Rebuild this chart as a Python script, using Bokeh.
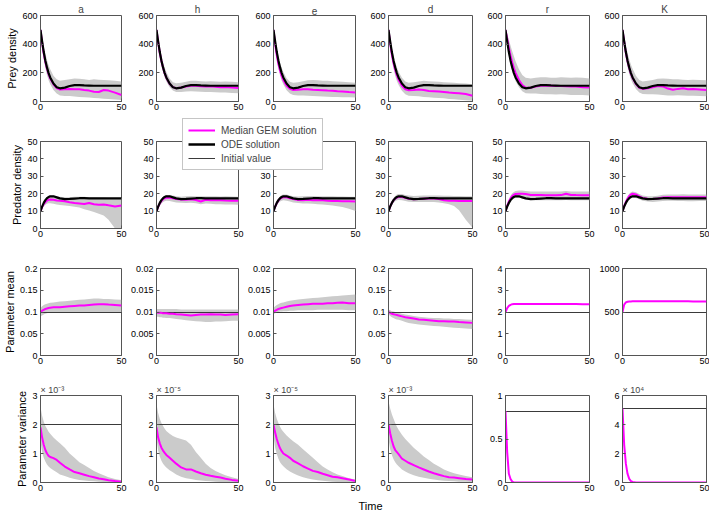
from bokeh.plotting import figure
from bokeh.models import (Range1d, FixedTicker, CustomJSTickFormatter, GridBox,
                          Legend, LegendItem, Label)
from bokeh.embed import file_html
from bokeh.resources import INLINE

# ---------------- data ----------------
T = [0, 1, 2, 3, 4, 5, 6, 8, 10, 12, 15, 18, 21, 24, 27, 30, 33, 36, 39, 42, 46, 50]
PARAMS = ["a", "h", "e", "d", "r", "K"]
ROW_LABELS = ["Prey density", "Predator density", "Parameter mean", "Parameter variance"]
LEGEND_LABELS = ["Median GEM solution", "ODE solution", "Initial value"]
X_LABEL = "Time"
X_TICKS = [0, 50]

ODE_PREY = [500, 420, 345, 285, 238, 198, 168, 125, 100, 92, 97, 108, 114, 114, 112, 111, 110, 110, 110, 110, 110, 110]
ODE_PRED = [10.0, 12.6, 14.7, 16.3, 17.4, 18.1, 18.5, 18.5, 17.9, 17.3, 16.9, 17.0, 17.2, 17.4, 17.4, 17.3, 17.3, 17.3, 17.3, 17.3, 17.3, 17.3]

PREY_MED_a = [500, 410, 335, 275, 228, 190, 160, 120, 93, 83, 85, 88, 86, 85, 80, 76, 68, 66, 80, 76, 62, 45]
PREY_LO_a = [500, 375, 295, 235, 185, 148, 120, 80, 55, 42, 38, 38, 35, 32, 30, 28, 25, 22, 20, 18, 14, 10]
PREY_HI_a = [500, 445, 385, 335, 290, 255, 225, 180, 155, 145, 150, 155, 160, 158, 155, 150, 155, 152, 150, 148, 145, 140]
PREY_MED_h = [500, 415, 340, 282, 235, 196, 166, 124, 100, 93, 97, 105, 110, 110, 106, 105, 106, 103, 100, 102, 98, 95]
PREY_LO_h = [500, 390, 310, 252, 205, 168, 140, 100, 76, 66, 66, 70, 72, 70, 68, 66, 66, 64, 62, 62, 60, 58]
PREY_HI_h = [500, 440, 375, 320, 275, 235, 205, 160, 135, 128, 130, 138, 145, 145, 142, 140, 142, 140, 138, 140, 138, 135]
PREY_MED_e = [500, 400, 322, 262, 215, 178, 150, 110, 88, 80, 82, 85, 86, 82, 80, 78, 76, 75, 72, 70, 66, 63]
PREY_LO_e = [500, 370, 290, 230, 182, 145, 118, 78, 55, 45, 42, 42, 40, 38, 36, 35, 34, 32, 32, 30, 30, 28]
PREY_HI_e = [500, 435, 370, 318, 272, 235, 205, 162, 138, 130, 135, 142, 148, 150, 148, 145, 145, 142, 140, 138, 135, 130]
PREY_MED_d = [500, 405, 328, 268, 220, 182, 152, 110, 85, 78, 80, 84, 80, 74, 72, 70, 66, 62, 60, 58, 52, 40]
PREY_LO_d = [500, 370, 290, 230, 180, 142, 115, 75, 50, 40, 38, 36, 32, 30, 27, 25, 22, 18, 15, 12, 8, 5]
PREY_HI_d = [500, 440, 375, 322, 275, 238, 208, 165, 140, 130, 135, 140, 145, 142, 140, 138, 135, 132, 130, 128, 125, 120]
PREY_MED_r = [500, 440, 375, 320, 272, 232, 200, 150, 115, 98, 96, 104, 110, 112, 110, 108, 108, 106, 105, 104, 100, 98]
PREY_LO_r = [500, 400, 320, 258, 210, 172, 142, 100, 72, 58, 55, 55, 52, 50, 50, 48, 50, 48, 46, 45, 45, 42]
PREY_HI_r = [500, 470, 430, 390, 350, 315, 280, 225, 185, 165, 160, 165, 170, 170, 165, 165, 170, 168, 165, 168, 165, 160]
PREY_MED_K = [500, 415, 340, 280, 232, 194, 164, 122, 96, 88, 92, 100, 108, 105, 90, 82, 88, 92, 85, 88, 84, 80]
PREY_LO_K = [500, 380, 300, 240, 192, 155, 128, 88, 62, 52, 50, 50, 48, 45, 42, 42, 44, 42, 40, 40, 38, 36]
PREY_HI_K = [500, 450, 390, 340, 295, 258, 228, 180, 150, 140, 145, 150, 158, 160, 158, 155, 155, 152, 150, 152, 150, 148]

PRED_MED_a = [10.0, 12.3, 14.0, 15.2, 16.0, 16.5, 16.7, 16.5, 16.1, 15.9, 15.7, 15.1, 14.6, 14.4, 14.1, 14.7, 13.9, 13.6, 13.8, 13.3, 12.7, 13.2]
PRED_LO_a = [9.5, 11.2, 12.6, 13.6, 14.2, 14.5, 14.5, 14.2, 13.8, 13.5, 13.2, 13.0, 12.5, 12.0, 11.0, 10.3, 9.5, 8.5, 7.5, 5.0, 0.0, 0.0]
PRED_HI_a = [10.5, 13.5, 15.5, 17.0, 18.2, 18.8, 19.0, 19.0, 18.6, 18.3, 18.0, 18.0, 18.2, 18.3, 18.2, 18.0, 18.0, 17.8, 17.8, 17.6, 17.5, 17.5]
PRED_MED_h = [10.0, 12.4, 14.4, 15.8, 16.8, 17.4, 17.7, 17.8, 17.4, 17.0, 16.6, 16.5, 16.8, 16.4, 15.5, 16.5, 16.3, 16.2, 16.2, 16.1, 16.0, 16.0]
PRED_LO_h = [9.5, 11.3, 13.0, 14.3, 15.2, 15.7, 16.0, 15.8, 15.4, 15.0, 14.8, 14.7, 14.8, 14.5, 14.0, 14.3, 14.2, 14.0, 14.0, 13.8, 13.8, 13.6]
PRED_HI_h = [10.5, 13.5, 15.6, 17.2, 18.3, 19.0, 19.3, 19.3, 18.9, 18.5, 18.3, 18.5, 18.7, 18.6, 18.5, 18.5, 18.6, 18.5, 18.4, 18.5, 18.4, 18.3]
PRED_MED_e = [10.0, 12.5, 14.6, 16.1, 17.1, 17.7, 18.0, 18.0, 17.4, 16.9, 16.4, 16.2, 16.5, 16.3, 16.2, 16.2, 16.0, 15.8, 15.8, 15.7, 15.6, 15.5]
PRED_LO_e = [9.5, 11.4, 13.2, 14.6, 15.5, 16.0, 16.2, 16.0, 15.5, 15.0, 14.6, 14.4, 14.3, 14.2, 14.0, 13.8, 13.5, 13.2, 12.8, 12.3, 11.3, 10.0]
PRED_HI_e = [10.5, 13.6, 15.8, 17.4, 18.6, 19.3, 19.6, 19.5, 19.0, 18.6, 18.4, 18.5, 18.7, 18.7, 18.6, 18.6, 18.5, 18.5, 18.4, 18.4, 18.3, 18.2]
PRED_MED_d = [10.0, 12.6, 14.7, 16.2, 17.2, 17.8, 18.1, 18.1, 17.6, 17.1, 16.8, 16.9, 17.1, 17.2, 17.2, 17.0, 16.2, 16.0, 16.0, 15.8, 15.8, 15.8]
PRED_LO_d = [9.5, 11.5, 13.3, 14.8, 15.7, 16.2, 16.4, 16.2, 15.8, 15.4, 15.2, 15.2, 15.3, 15.3, 15.2, 15.0, 14.5, 14.0, 13.0, 10.5, 5.0, 0.5]
PRED_HI_d = [10.5, 13.6, 15.8, 17.5, 18.7, 19.5, 19.8, 19.8, 19.3, 18.9, 18.7, 18.8, 19.0, 19.0, 19.0, 18.9, 18.8, 18.8, 18.7, 18.7, 18.6, 18.5]
PRED_MED_r = [10.0, 13.0, 15.5, 17.3, 18.6, 19.4, 19.8, 20.0, 20.0, 19.8, 19.3, 19.2, 19.2, 19.1, 19.1, 19.1, 19.2, 20.0, 19.3, 19.2, 19.1, 19.1]
PRED_LO_r = [9.5, 12.0, 14.2, 15.8, 16.9, 17.5, 17.8, 17.8, 17.2, 16.7, 16.4, 16.3, 16.3, 16.3, 16.3, 16.3, 16.3, 16.4, 16.3, 16.3, 16.2, 16.2]
PRED_HI_r = [10.5, 14.0, 16.8, 18.8, 20.2, 21.0, 21.5, 21.8, 21.8, 21.6, 21.3, 21.2, 21.3, 21.3, 21.2, 21.3, 21.3, 21.5, 21.3, 21.3, 21.3, 21.3]
PRED_MED_K = [10.0, 12.8, 15.2, 17.2, 18.7, 19.6, 20.0, 19.6, 18.5, 17.6, 17.1, 17.0, 17.2, 17.8, 17.9, 17.9, 17.9, 17.9, 17.9, 17.9, 17.9, 17.9]
PRED_LO_K = [9.5, 11.8, 14.0, 15.8, 16.9, 17.5, 17.8, 17.5, 16.8, 16.0, 15.5, 15.3, 15.5, 15.8, 16.0, 16.0, 15.8, 15.8, 15.6, 15.7, 15.8, 15.8]
PRED_HI_K = [10.5, 13.8, 16.5, 18.6, 20.0, 20.8, 21.2, 20.8, 19.8, 19.0, 18.6, 18.6, 18.8, 19.4, 19.6, 19.6, 19.6, 19.7, 19.6, 19.5, 19.6, 19.5]

MEAN_INIT = [0.1, 0.01, 0.01, 0.1, 2, 500]
MEAN_MED_a = [0.100, 0.103, 0.105, 0.107, 0.108, 0.109, 0.110, 0.111, 0.111, 0.111, 0.112, 0.113, 0.114, 0.115, 0.115, 0.116, 0.117, 0.118, 0.118, 0.117, 0.116, 0.115]
MEAN_LO_a = [0.090, 0.092, 0.094, 0.096, 0.097, 0.098, 0.099, 0.099, 0.100, 0.100, 0.100, 0.100, 0.100, 0.100, 0.100, 0.100, 0.100, 0.100, 0.100, 0.100, 0.100, 0.100]
MEAN_HI_a = [0.110, 0.113, 0.116, 0.118, 0.119, 0.120, 0.121, 0.122, 0.123, 0.124, 0.125, 0.126, 0.127, 0.128, 0.129, 0.130, 0.131, 0.131, 0.130, 0.130, 0.129, 0.128]
MEAN_MED_h = [0.0098, 0.0098, 0.0098, 0.0098, 0.0097, 0.0097, 0.0097, 0.0096, 0.0096, 0.0095, 0.0094, 0.0093, 0.0092, 0.0093, 0.0094, 0.0094, 0.0095, 0.0094, 0.0094, 0.0093, 0.0094, 0.0095]
MEAN_LO_h = [0.0089, 0.0089, 0.0088, 0.0088, 0.0087, 0.0087, 0.0086, 0.0086, 0.0085, 0.0084, 0.0083, 0.0081, 0.0080, 0.0079, 0.0078, 0.0077, 0.0077, 0.0078, 0.0078, 0.0079, 0.0080, 0.0080]
MEAN_HI_h = [0.0107, 0.0107, 0.0107, 0.0107, 0.0107, 0.0107, 0.0107, 0.0107, 0.0107, 0.0107, 0.0106, 0.0106, 0.0106, 0.0106, 0.0106, 0.0106, 0.0106, 0.0106, 0.0106, 0.0106, 0.0106, 0.0106]
MEAN_MED_e = [0.0100, 0.0103, 0.0105, 0.0107, 0.0108, 0.0109, 0.0110, 0.0112, 0.0114, 0.0115, 0.0116, 0.0117, 0.0118, 0.0119, 0.0119, 0.0119, 0.0120, 0.0120, 0.0121, 0.0122, 0.0120, 0.0120]
MEAN_LO_e = [0.0095, 0.0097, 0.0099, 0.0100, 0.0101, 0.0101, 0.0102, 0.0102, 0.0103, 0.0103, 0.0104, 0.0104, 0.0104, 0.0104, 0.0105, 0.0105, 0.0105, 0.0105, 0.0105, 0.0105, 0.0104, 0.0104]
MEAN_HI_e = [0.0110, 0.0113, 0.0116, 0.0118, 0.0120, 0.0121, 0.0122, 0.0124, 0.0126, 0.0127, 0.0129, 0.0130, 0.0131, 0.0132, 0.0133, 0.0134, 0.0135, 0.0136, 0.0137, 0.0138, 0.0139, 0.0140]
MEAN_MED_d = [0.100, 0.098, 0.096, 0.095, 0.094, 0.093, 0.092, 0.090, 0.088, 0.087, 0.085, 0.083, 0.082, 0.081, 0.080, 0.079, 0.079, 0.078, 0.078, 0.077, 0.076, 0.075]
MEAN_LO_d = [0.094, 0.091, 0.088, 0.086, 0.084, 0.083, 0.082, 0.080, 0.077, 0.075, 0.073, 0.071, 0.070, 0.069, 0.068, 0.067, 0.066, 0.065, 0.064, 0.063, 0.062, 0.061]
MEAN_HI_d = [0.106, 0.104, 0.102, 0.101, 0.100, 0.099, 0.098, 0.096, 0.094, 0.093, 0.091, 0.089, 0.088, 0.087, 0.086, 0.086, 0.085, 0.085, 0.084, 0.084, 0.083, 0.082]
MEAN_MED_r = [2.00, 2.18, 2.28, 2.33, 2.36, 2.37, 2.37, 2.37, 2.37, 2.37, 2.37, 2.37, 2.37, 2.37, 2.37, 2.37, 2.37, 2.37, 2.37, 2.37, 2.36, 2.36]
MEAN_MED_K = [500, 585, 610, 618, 621, 622, 623, 623, 623, 623, 623, 623, 623, 623, 623, 623, 623, 623, 623, 622, 622, 621]

# variance values are in the units shown by each panel's multiplier
VAR_MULT = ["\u00d7 10\u207b\u00b3", "\u00d7 10\u207b\u2075", "\u00d7 10\u207b\u2075", "\u00d7 10\u207b\u00b3", "", "\u00d7 10\u2074"]
VAR_INIT = [2, 2, 2, 2, 0.82, 5.1]
VAR_MED_a = [1.90, 1.55, 1.30, 1.12, 1.00, 0.92, 0.88, 0.84, 0.78, 0.68, 0.55, 0.45, 0.36, 0.32, 0.27, 0.22, 0.18, 0.14, 0.11, 0.08, 0.05, 0.03]
VAR_LO_a = [1.40, 1.05, 0.85, 0.72, 0.62, 0.55, 0.50, 0.42, 0.35, 0.28, 0.22, 0.16, 0.12, 0.09, 0.07, 0.05, 0.04, 0.03, 0.02, 0.01, 0.01, 0.00]
VAR_HI_a = [2.60, 2.30, 2.10, 1.95, 1.85, 1.75, 1.68, 1.55, 1.45, 1.35, 1.20, 1.00, 0.85, 0.70, 0.60, 0.50, 0.40, 0.32, 0.25, 0.18, 0.12, 0.08]
VAR_MED_h = [1.90, 1.55, 1.35, 1.20, 1.10, 1.02, 0.95, 0.85, 0.75, 0.65, 0.52, 0.45, 0.45, 0.38, 0.32, 0.27, 0.23, 0.20, 0.17, 0.13, 0.09, 0.06]
VAR_LO_h = [1.50, 1.10, 0.90, 0.75, 0.65, 0.58, 0.52, 0.42, 0.35, 0.28, 0.20, 0.15, 0.12, 0.09, 0.07, 0.05, 0.04, 0.03, 0.02, 0.02, 0.01, 0.01]
VAR_HI_h = [2.70, 2.40, 2.20, 2.05, 1.95, 1.85, 1.78, 1.68, 1.60, 1.55, 1.50, 1.45, 1.30, 1.05, 0.85, 0.65, 0.50, 0.40, 0.32, 0.25, 0.18, 0.12]
VAR_MED_e = [2.00, 1.72, 1.50, 1.32, 1.18, 1.08, 1.00, 0.93, 0.85, 0.75, 0.66, 0.56, 0.48, 0.40, 0.36, 0.30, 0.25, 0.20, 0.18, 0.15, 0.10, 0.05]
VAR_LO_e = [1.60, 1.20, 0.98, 0.82, 0.70, 0.62, 0.56, 0.46, 0.38, 0.32, 0.24, 0.18, 0.14, 0.10, 0.08, 0.06, 0.04, 0.03, 0.02, 0.02, 0.01, 0.01]
VAR_HI_e = [2.70, 2.40, 2.20, 2.05, 1.92, 1.82, 1.75, 1.62, 1.52, 1.42, 1.30, 1.15, 1.00, 0.85, 0.70, 0.55, 0.45, 0.35, 0.28, 0.22, 0.15, 0.10]
VAR_MED_d = [2.00, 1.70, 1.45, 1.25, 1.12, 1.05, 0.98, 0.82, 0.75, 0.68, 0.60, 0.52, 0.45, 0.38, 0.32, 0.27, 0.22, 0.18, 0.17, 0.15, 0.12, 0.10]
VAR_LO_d = [1.50, 1.15, 0.95, 0.80, 0.70, 0.62, 0.56, 0.45, 0.38, 0.32, 0.25, 0.20, 0.16, 0.13, 0.10, 0.08, 0.06, 0.05, 0.04, 0.03, 0.03, 0.02]
VAR_HI_d = [2.80, 2.55, 2.35, 2.20, 2.05, 1.92, 1.82, 1.65, 1.50, 1.38, 1.20, 1.05, 0.90, 0.78, 0.65, 0.55, 0.45, 0.38, 0.32, 0.28, 0.22, 0.18]
VAR_MED_r = [0.82, 0.35, 0.10, 0.04, 0.01, 0.0, 0.0, 0.0, 0.0, 0.0, 0.0, 0.0, 0.0, 0.0, 0.0, 0.0, 0.0, 0.0, 0.0, 0.0, 0.0, 0.0]
VAR_MED_K = [5.10, 2.60, 1.30, 0.60, 0.25, 0.10, 0.04, 0.0, 0.0, 0.0, 0.0, 0.0, 0.0, 0.0, 0.0, 0.0, 0.0, 0.0, 0.0, 0.0, 0.0, 0.0]

Y_LIMITS = [
    [(0, 600)] * 6,
    [(0, 50)] * 6,
    [(0, 0.2), (0, 0.02), (0, 0.02), (0, 0.2), (0, 4), (0, 1000)],
    [(0, 3), (0, 3), (0, 3), (0, 3), (0, 1), (0, 6)],
]
Y_TICKS = [
    [[0, 200, 400, 600]] * 6,
    [[0, 10, 20, 30, 40, 50]] * 6,
    [[0, 0.05, 0.1, 0.15, 0.2], [0, 0.005, 0.01, 0.015, 0.02], [0, 0.005, 0.01, 0.015, 0.02],
     [0, 0.05, 0.1, 0.15, 0.2], [0, 1, 2, 3, 4], [0, 500, 1000]],
    [[0, 1, 2, 3], [0, 1, 2, 3], [0, 1, 2, 3], [0, 1, 2, 3], [0, 0.5, 1], [0, 2, 4, 6]],
]

PREY = {"a": (PREY_MED_a, PREY_LO_a, PREY_HI_a), "h": (PREY_MED_h, PREY_LO_h, PREY_HI_h),
        "e": (PREY_MED_e, PREY_LO_e, PREY_HI_e), "d": (PREY_MED_d, PREY_LO_d, PREY_HI_d),
        "r": (PREY_MED_r, PREY_LO_r, PREY_HI_r), "K": (PREY_MED_K, PREY_LO_K, PREY_HI_K)}
PRED = {"a": (PRED_MED_a, PRED_LO_a, PRED_HI_a), "h": (PRED_MED_h, PRED_LO_h, PRED_HI_h),
        "e": (PRED_MED_e, PRED_LO_e, PRED_HI_e), "d": (PRED_MED_d, PRED_LO_d, PRED_HI_d),
        "r": (PRED_MED_r, PRED_LO_r, PRED_HI_r), "K": (PRED_MED_K, PRED_LO_K, PRED_HI_K)}
MEAN = {"a": (MEAN_MED_a, MEAN_LO_a, MEAN_HI_a), "h": (MEAN_MED_h, MEAN_LO_h, MEAN_HI_h),
        "e": (MEAN_MED_e, MEAN_LO_e, MEAN_HI_e), "d": (MEAN_MED_d, MEAN_LO_d, MEAN_HI_d),
        "r": (MEAN_MED_r, None, None), "K": (MEAN_MED_K, None, None)}
VAR = {"a": (VAR_MED_a, VAR_LO_a, VAR_HI_a), "h": (VAR_MED_h, VAR_LO_h, VAR_HI_h),
       "e": (VAR_MED_e, VAR_LO_e, VAR_HI_e), "d": (VAR_MED_d, VAR_LO_d, VAR_HI_d),
       "r": (VAR_MED_r, None, None), "K": (VAR_MED_K, None, None)}

# ---------------- style / layout ----------------
FONT = "Liberation Sans"
MAGENTA = "#ff00ff"
BAND = "#cbcbcb"
AXC = "#555555"
INITC = "#3a3a3a"

TOTAL_W, TOTAL_H = 709, 510
FRAME_W, FRAME_H = 84, 87
LEFT0, LEFT = 37, 27
RIGHTS = [6, 6, 6, 6, 6, 3]
ROW_TOP = [14, 14, 14, 14]
ROW_BOTTOM = [26, 26, 26, 28]

fmt = CustomJSTickFormatter(code="return String(parseFloat(tick.toPrecision(6)));")


def style_axis(ax, standoff):
    ax.axis_line_color = AXC
    ax.major_tick_line_color = AXC
    ax.major_tick_in = 3
    ax.major_tick_out = 0
    ax.minor_tick_line_color = None
    ax.major_label_text_font = FONT
    ax.major_label_text_font_size = "9px"
    ax.major_label_text_color = "#000000"
    ax.major_label_standoff = standoff


def make_panel(r, c):
    name = PARAMS[c]
    lb = LEFT0 if c == 0 else LEFT
    w = lb + FRAME_W + RIGHTS[c]
    h = ROW_TOP[r] + FRAME_H + ROW_BOTTOM[r]
    p = figure(width=w, height=h, x_range=Range1d(0, 50), y_range=Range1d(*Y_LIMITS[r][c]),
               output_backend="svg", toolbar_location=None, tools="",
               min_border_left=lb, min_border_right=RIGHTS[c],
               min_border_top=ROW_TOP[r], min_border_bottom=ROW_BOTTOM[r])
    p.outline_line_color = AXC
    p.outline_line_width = 1
    p.xgrid.visible = False
    p.ygrid.visible = False
    p.xaxis.ticker = FixedTicker(ticks=X_TICKS)
    p.yaxis.ticker = FixedTicker(ticks=Y_TICKS[r][c])
    p.xaxis.formatter = fmt
    p.yaxis.formatter = fmt
    style_axis(p.xaxis[0], 2)
    style_axis(p.yaxis[0], 3)
    if c == 0:
        p.yaxis.axis_label = ROW_LABELS[r]
        p.yaxis.axis_label_text_font = FONT
        p.yaxis.axis_label_text_font_size = "11px"
        p.yaxis.axis_label_text_font_style = "normal"
        p.yaxis.axis_label_text_color = "#000000"
        p.yaxis.axis_label_standoff = 1

    if r == 0:
        p.title.text = name
        p.title.align = "center"
        p.title.text_font = FONT
        p.title.text_font_size = "10px"
        p.title.text_font_style = "normal"
        p.title.standoff = 2
    elif r == 3 and VAR_MULT[c]:
        p.title.text = VAR_MULT[c]
        p.title.align = "left"
        p.title.text_font = FONT
        p.title.text_font_size = "9px"
        p.title.text_font_style = "normal"
        p.title.standoff = 1

    if r in (0, 1):
        med, lo, hi = (PREY if r == 0 else PRED)[name]
        ode = ODE_PREY if r == 0 else ODE_PRED
        p.varea(x=T, y1=lo, y2=hi, fill_color=BAND)
        p.line(x=T, y=med, line_color=MAGENTA, line_width=2)
        p.line(x=T, y=ode, line_color="#000000", line_width=2.2)
    else:
        med, lo, hi = (MEAN if r == 2 else VAR)[name]
        init = (MEAN_INIT if r == 2 else VAR_INIT)[c]
        if lo is not None:
            p.varea(x=T, y1=lo, y2=hi, fill_color=BAND)
        p.hspan(y=[init], line_color=INITC, line_width=1)
        p.line(x=T, y=med, line_color=MAGENTA, line_width=2)
    return p


children = []
for r in range(4):
    for c in range(6):
        children.append((make_panel(r, c), r, c))

# transparent overlay carrying the shared legend and the shared x label;
# its ranges are placed away from the data so its own lines stay out of view
ov = figure(width=TOTAL_W, height=TOTAL_H, x_range=Range1d(1000, 1001), y_range=Range1d(1000, 1001),
            x_axis_type=None, y_axis_type=None, output_backend="svg",
            toolbar_location=None, tools="", min_border=0,
            min_border_left=0, min_border_right=0, min_border_top=0, min_border_bottom=0)
ov.frame_align = False
ov.outline_line_color = None
ov.background_fill_color = None
ov.border_fill_color = None
r_med = ov.line(x=T, y=PREY_MED_a, line_color=MAGENTA, line_width=2)
r_ode = ov.line(x=T, y=ODE_PREY, line_color="#000000", line_width=2.5)
r_ini = ov.line(x=T, y=ODE_PRED, line_color=INITC, line_width=1)
legend = Legend(items=[LegendItem(label=LEGEND_LABELS[0], renderers=[r_med]),
                       LegendItem(label=LEGEND_LABELS[1], renderers=[r_ode]),
                       LegendItem(label=LEGEND_LABELS[2], renderers=[r_ini])],
                location=(182, 340))
legend.label_text_font = FONT
legend.label_text_font_size = "10px"
legend.label_height = 12
legend.glyph_height = 12
legend.glyph_width = 27
legend.label_standoff = 6
legend.spacing = 2
legend.padding = 5
legend.margin = 0
legend.border_line_color = "#8c8c8c"
legend.background_fill_color = "#ffffff"
legend.background_fill_alpha = 1
ov.add_layout(legend)
ov.add_layout(Label(x=370, y=5, x_units="screen", y_units="screen", text=X_LABEL,
                    text_align="center", text_baseline="alphabetic",
                    text_font=FONT, text_font_size="11px", text_color="#000000"))

children.append((ov, 0, 0, 4, 6))
root = GridBox(children=children, spacing=0)

open("out.html", "w").write(file_html(root, INLINE))
